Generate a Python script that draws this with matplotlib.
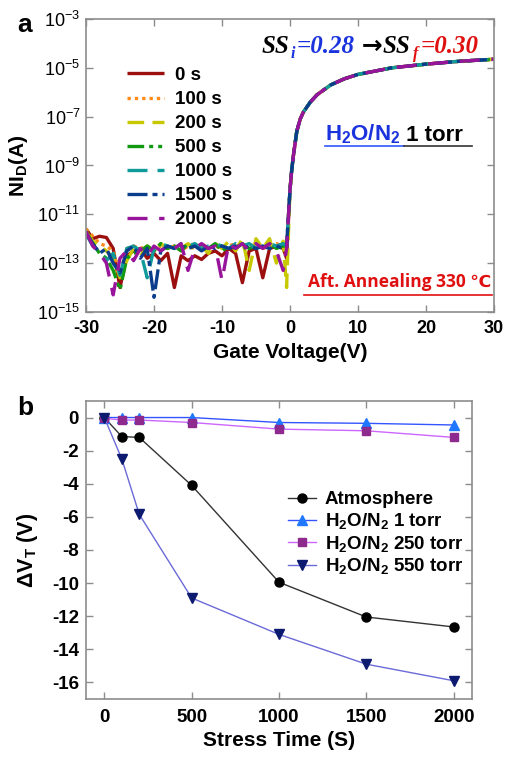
import numpy as np
import matplotlib
matplotlib.use("Agg")
import matplotlib.pyplot as plt

plt.rcParams['font.family'] = ['Liberation Sans', 'DejaVu Sans']
plt.rcParams['mathtext.fontset'] = 'custom'
plt.rcParams['mathtext.rm'] = 'Liberation Sans:bold'
plt.rcParams['mathtext.it'] = 'Liberation Sans:bold'
plt.rcParams['mathtext.bf'] = 'Liberation Sans:bold'
plt.rcParams['mathtext.default'] = 'bf'
plt.rcParams['axes.unicode_minus'] = False

# ---------------- Panel a data ----------------
v_off = list(np.arange(-30, 0, 1.0)) + [-0.5]
v_on = [0, 0.25, 0.5, 1, 1.5, 2, 3, 4, 6, 8, 10, 15, 20, 25, 30]
log_on = [-10.0, -9.2, -8.6, -7.6, -7.1, -6.8, -6.4, -6.1, -5.7, -5.45, -5.27, -5.0, -4.85, -4.73, -4.65]

stress_labels = ["0 s", "100 s", "200 s", "500 s", "1000 s", "1500 s", "2000 s"]
log_off_0 = [-11.6, -12.0, -11.9, -11.95, -12.4, -14.0, -12.7, -12.5, -12.4, -12.8, -12.6, -12.9, -12.6, -14.0, -12.7,
             -12.9, -12.7, -12.85, -12.6, -12.5, -12.7, -12.4, -12.6, -13.8, -12.5, -12.4, -13.6, -12.4, -12.3, -12.4, -12.8]
log_off_100 = [-11.6, -11.9, -12.2, -12.3, -12.5, -13.5, -12.4, -12.3, -12.4, -12.3, -12.5, -12.3, -12.4, -12.3, -12.5,
               -12.3, -12.4, -12.2, -12.4, -12.3, -12.4, -12.3, -12.2, -12.4, -12.3, -12.2, -12.4, -12.3, -12.2, -12.3, -12.4]
log_off_200 = [-11.7, -12.1, -12.3, -12.5, -12.8, -13.6, -12.9, -12.4, -12.6, -12.3, -12.5, -12.2, -12.4, -12.3, -12.4,
               -12.2, -12.5, -12.3, -12.6, -12.2, -12.4, -12.1, -12.5, -12.0, -13.3, -12.0, -12.4, -12.0, -13.0, -12.1, -14.0]
log_off_500 = [-11.7, -12.2, -12.6, -12.8, -13.3, -14.1, -12.8, -12.6, -12.5, -12.3, -12.5, -12.2, -12.4, -12.3, -12.5,
               -12.2, -12.4, -12.3, -12.4, -12.2, -12.5, -12.3, -12.4, -12.2, -12.4, -12.3, -12.4, -12.2, -12.4, -12.3, -12.3]
log_off_1000 = [-11.8, -12.3, -12.5, -12.9, -12.6, -13.5, -12.4, -12.3, -12.5, -13.6, -12.4, -12.2, -12.3, -12.4, -12.2,
                -12.3, -12.2, -12.4, -12.3, -12.2, -12.3, -12.4, -12.2, -12.3, -12.2, -12.4, -12.3, -12.2, -12.3, -12.2, -12.3]
log_off_1500 = [-11.8, -12.2, -12.6, -12.4, -13.0, -13.4, -12.5, -12.3, -12.8, -12.4, -14.4, -12.5, -12.3, -12.4, -12.3,
                -12.4, -12.3, -12.5, -12.3, -12.4, -12.3, -12.4, -12.3, -12.4, -12.3, -12.4, -12.3, -12.4, -12.3, -12.4, -12.3]
log_off_2000 = [-11.7, -12.3, -12.6, -13.0, -14.3, -12.8, -12.5, -12.9, -12.4, -12.7, -12.3, -12.5, -12.3, -12.4, -12.2,
                -13.3, -12.4, -12.2, -12.4, -12.3, -13.7, -12.2, -12.4, -12.2, -12.5, -12.2, -12.4, -12.2, -12.5, -13.3, -12.4]
log_off_all = [log_off_0, log_off_100, log_off_200, log_off_500, log_off_1000, log_off_1500, log_off_2000]

a_colors = ["#9b0f0f", "#ff8c1a", "#c8c800", "#119911", "#109a9a", "#0a3c8c", "#98149a"]
a_dashes = [None, (1, 1.2), (5, 2.5), (5, 1.5, 1.2, 1.5, 1.2, 1.5), (6, 3), (6, 1.5, 1.5, 1.5), (6, 3.5)]

# ---------------- Panel b data ----------------
stress_time = [0, 100, 200, 500, 1000, 1500, 2000]
dvt_atm = [0, -1.15, -1.2, -4.1, -9.95, -12.05, -12.65]
dvt_1torr = [0, 0, 0, 0, -0.3, -0.35, -0.45]
dvt_250torr = [-0.05, -0.15, -0.15, -0.3, -0.7, -0.8, -1.2]
dvt_550torr = [0, -2.5, -5.85, -10.9, -13.1, -14.9, -15.9]

fig = plt.figure(figsize=(5.10, 7.59), dpi=100)

spine_col = "#8c8c8c"

# ================= Panel a =================
ax = fig.add_axes([0.1686, 0.589, 0.80, 0.386])
for i in range(7):
    v = v_off + v_on
    y = 10.0 ** np.array(log_off_all[i] + log_on)
    ln, = ax.plot(v, y, color=a_colors[i], lw=2.4, label=stress_labels[i], solid_capstyle='butt')
    if a_dashes[i] is not None:
        ln.set_dashes(a_dashes[i])
ax.set_yscale('log')
ax.set_xlim(-30, 30)
ax.set_ylim(1e-15, 1e-3)
ax.set_xticks([-30, -20, -10, 0, 10, 20, 30])
ax.set_yticks([1e-15, 1e-13, 1e-11, 1e-9, 1e-7, 1e-5, 1e-3])
ax.minorticks_off()
ax.tick_params(direction='in', top=True, right=True, length=5, width=1, color=spine_col, labelsize=13)
ax.tick_params(axis='x', pad=6)
ax.tick_params(axis='y', pad=4)
for lab in ax.get_xticklabels():
    lab.set_fontweight('bold')
for s in ax.spines.values():
    s.set_color(spine_col)
    s.set_linewidth(1.2)
ax.set_xlabel("Gate Voltage(V)", fontsize=15, fontweight='bold', labelpad=4)
ax.set_ylabel(r"NI$_\mathregular{D}$(A)", fontsize=15, fontweight='bold', labelpad=5)

leg = ax.legend(loc='upper left', bbox_to_anchor=(0.082, 0.862), frameon=False, fontsize=13.5,
                handlelength=2.0, handletextpad=0.55, labelspacing=0.37, borderaxespad=0)
for t in leg.get_texts():
    t.set_fontweight('bold')

# SS text (chained segments)
serif = ['Liberation Serif', 'DejaVu Serif']
fs = 18
t1 = ax.text(0.43, 0.885, "SS", transform=ax.transAxes, fontsize=fs, family=serif, style='italic',
             fontweight='bold', color='black', va='baseline')
t2 = ax.annotate("i", xy=(1, 0), xycoords=t1, xytext=(1, -3), textcoords='offset points', fontsize=11.5,
                 family=serif, style='italic', fontweight='bold', color='#1a33dd', va='bottom')
t3 = ax.annotate("=0.28", xy=(1, 0), xycoords=t2, xytext=(1, 3), textcoords='offset points', fontsize=fs,
                 family=serif, style='italic', fontweight='bold', color='#1a33dd', va='bottom')
t4 = ax.annotate(" \u2192", xy=(1, 0), xycoords=t3, xytext=(-1, 0), textcoords='offset points', fontsize=fs,
                 family=['DejaVu Sans'], fontweight='bold', color='black', va='bottom')
t5 = ax.annotate("SS", xy=(1, 0), xycoords=t4, xytext=(0, 0), textcoords='offset points', fontsize=fs,
                 family=serif, style='italic', fontweight='bold', color='black', va='bottom')
t6 = ax.annotate("f", xy=(1, 0), xycoords=t5, xytext=(2, -3), textcoords='offset points', fontsize=11.5,
                 family=serif, style='italic', fontweight='bold', color='#e01010', va='bottom')
t7 = ax.annotate("=0.30", xy=(1, 0), xycoords=t6, xytext=(1.5, 3), textcoords='offset points', fontsize=fs,
                 family=serif, style='italic', fontweight='bold', color='#e01010', va='bottom')

# H2O/N2 1 torr
h1 = ax.text(0.585, 0.585, r"H$_\mathregular{2}$O/N$_\mathregular{2}$", transform=ax.transAxes, fontsize=16,
             fontweight='bold', color='#1a33dd', va='baseline')
h2 = ax.annotate(" 1 torr", xy=(1, 0), xycoords=h1, xytext=(0, 0), textcoords='offset points', fontsize=16,
                 fontweight='bold', color='black', va='bottom')
ax.plot([0.585, 0.78], [0.566, 0.566], transform=ax.transAxes, color='#3355ff', lw=1.2)
ax.plot([0.78, 0.945], [0.566, 0.566], transform=ax.transAxes, color='#333333', lw=1.2)

# Annealing text
ax.text(0.545, 0.085, "Aft. Annealing 330 \u2103", transform=ax.transAxes, fontsize=12.5,
        family=['Open Sans', 'DejaVu Sans'], fontweight='bold', color='#e01010', va='baseline')
ax.plot([0.535, 0.995], [0.058, 0.058], transform=ax.transAxes, color='#e01010', lw=1.2)

fig.text(0.033, 0.967, "a", fontsize=19, fontweight='bold', va='center')

# ================= Panel b =================
bx = fig.add_axes([0.1686, 0.0791, 0.757, 0.3926])
bx.plot(stress_time, dvt_atm, '-o', color='#333333', mfc='black', mec='black', ms=6.5, lw=1.0, label='Atmosphere')
bx.plot(stress_time, dvt_1torr, '-^', color='#3355ff', mfc='#1f78ff', mec='#1f78ff', ms=7, lw=1.0,
        label=r'H$_\mathregular{2}$O/N$_\mathregular{2}$ 1 torr')
bx.plot(stress_time, dvt_250torr, '-s', color='#cc66ff', mfc='#8e2a8e', mec='#8e2a8e', ms=6, lw=1.0,
        label=r'H$_\mathregular{2}$O/N$_\mathregular{2}$ 250 torr')
bx.plot(stress_time, dvt_550torr, '-v', color='#6a6ad8', mfc='#0c1a70', mec='#0c1a70', ms=7, lw=1.0,
        label=r'H$_\mathregular{2}$O/N$_\mathregular{2}$ 550 torr')
bx.set_xlim(-105, 2105)
bx.set_ylim(-17, 1)
bx.set_xticks([0, 500, 1000, 1500, 2000])
bx.set_yticks([0, -2, -4, -6, -8, -10, -12, -14, -16])
bx.tick_params(direction='in', top=True, right=True, length=5, width=1, color=spine_col, labelsize=13.5)
bx.tick_params(axis='x', pad=7)
bx.tick_params(axis='y', pad=5)
for lab in bx.get_xticklabels() + bx.get_yticklabels():
    lab.set_fontweight('bold')
for s in bx.spines.values():
    s.set_color(spine_col)
    s.set_linewidth(1.2)
bx.set_xlabel("Stress Time (S)", fontsize=15, fontweight='bold', labelpad=4)
bx.set_ylabel(r"$\Delta$V$_\mathregular{T}$ (V)", fontsize=15.5, fontweight='bold', labelpad=9)
lg = bx.legend(loc='upper left', bbox_to_anchor=(0.505, 0.722), frameon=False, fontsize=13.5,
               handlelength=1.45, handletextpad=0.5, labelspacing=0.14, borderaxespad=0)
for t in lg.get_texts():
    t.set_fontweight('bold')

fig.text(0.033, 0.462, "b", fontsize=19, fontweight='bold', va='center')

fig.savefig("out.png", dpi=100)
